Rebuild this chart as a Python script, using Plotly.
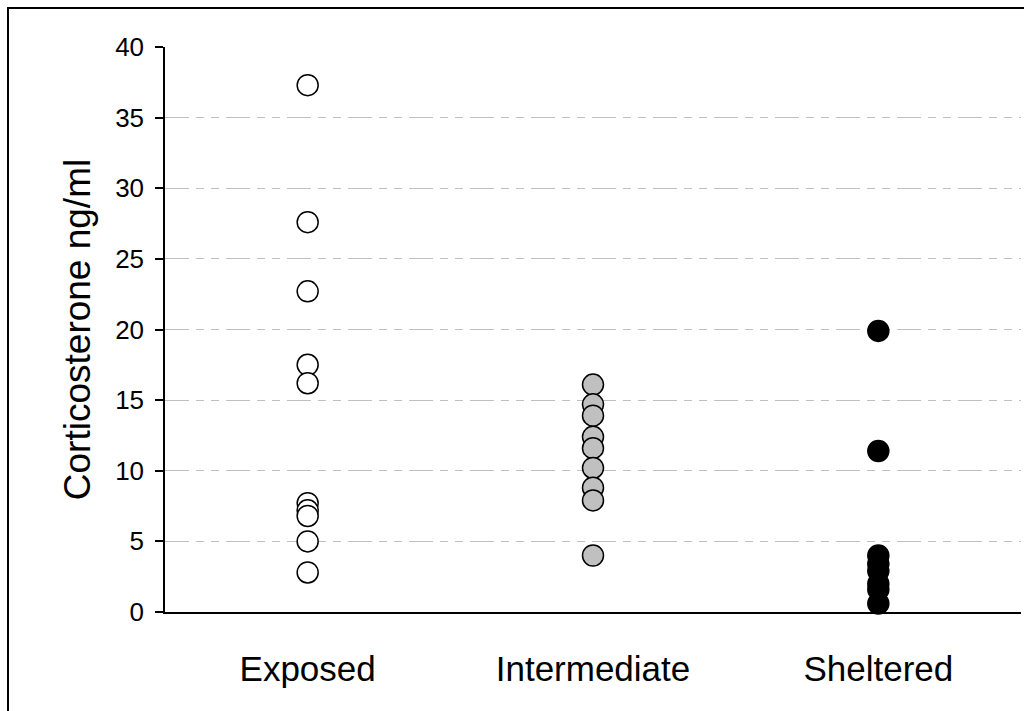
import plotly.graph_objects as go

# Corticosterone concentrations (ng/ml) by site exposure
categories = ["Exposed", "Intermediate", "Sheltered"]
exposed = [37.3, 27.6, 22.7, 17.5, 16.2, 7.7, 7.2, 6.8, 5.0, 2.8]
intermediate = [16.1, 14.7, 13.9, 12.4, 11.6, 10.2, 8.8, 7.9, 4.0]
sheltered = [19.9, 11.4, 4.0, 3.4, 2.9, 2.0, 1.6, 0.6]
y_ticks = [0, 5, 10, 15, 20, 25, 30, 35, 40]

series = [
    (categories[0], exposed, "white"),
    (categories[1], intermediate, "#c0c0c0"),
    (categories[2], sheltered, "black"),
]

FONT = "Liberation Sans, Arial, sans-serif"

fig = go.Figure()
for idx, (name, values, fill) in enumerate(series):
    fig.add_trace(go.Scatter(
        x=[idx + 0.5] * len(values),
        y=values,
        mode="markers",
        name=name,
        marker=dict(size=21, color=fill, line=dict(color="black", width=1.5)),
        showlegend=False,
        cliponaxis=False,
    ))

fig.update_layout(
    width=1024,
    height=711,
    margin=dict(l=165, r=3, t=47, b=99),
    paper_bgcolor="white",
    plot_bgcolor="white",
    font=dict(family=FONT, color="black"),
    xaxis=dict(
        range=[0, 3],
        tickvals=[0.5, 1.5, 2.5],
        ticktext=categories,
        tickfont=dict(size=35, family=FONT, color="black"),
        showgrid=False,
        zeroline=False,
        showline=True,
        linecolor="black",
        linewidth=1.5,
        ticks="",
        ticklabelstandoff=25,
        fixedrange=True,
    ),
    yaxis=dict(
        range=[0, 40],
        tickvals=y_ticks,
        tickfont=dict(size=26, family=FONT, color="black"),
        showgrid=True,
        gridcolor="#c0c0c0",
        griddash="24px,7px,8px,7px,8px,7px",
        gridwidth=1,
        zeroline=False,
        showline=True,
        linecolor="black",
        linewidth=1.5,
        ticks="outside",
        ticklen=8,
        tickcolor="black",
        tickwidth=1.5,
        ticklabelstandoff=6,
        title=dict(text="Corticosterone ng/ml",
                   font=dict(size=37, family=FONT, color="black"),
                   standoff=13),
        fixedrange=True,
    ),
    shapes=[dict(
        type="rect", xref="paper", yref="paper",
        x0=(8 - 165) / 856, x1=1.05,
        y0=-0.3, y1=(612 - 8) / 565,
        line=dict(color="black", width=2),
        fillcolor="rgba(0,0,0,0)",
        layer="below",
    )],
)

fig.write_html("out.html")
